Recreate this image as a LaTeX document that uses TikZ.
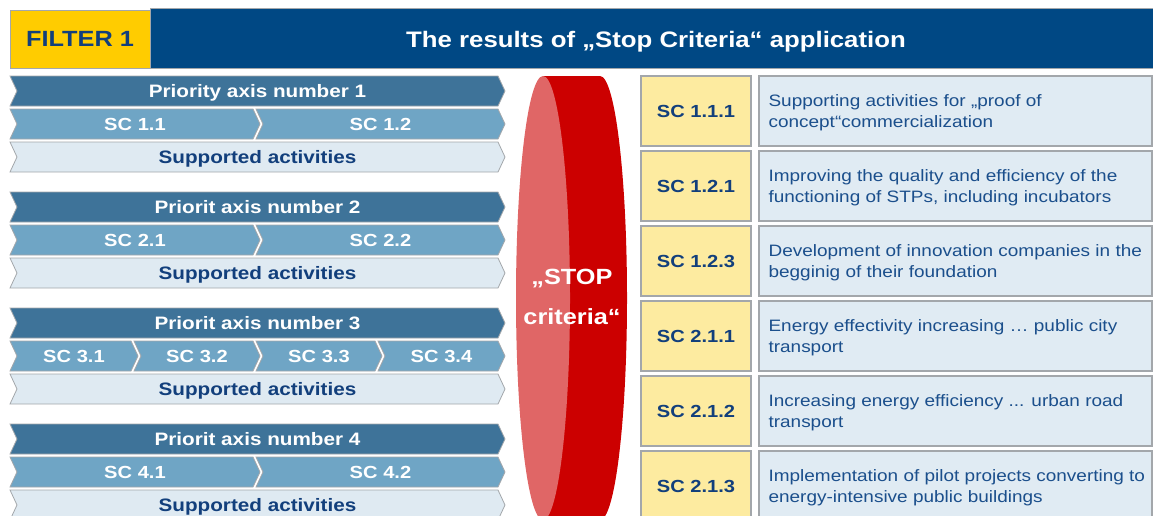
\documentclass[tikz,border=0pt]{standalone}
\usepackage{fontspec}
\setmainfont{Liberation Sans}[FakeStretch=1.15]

\definecolor{hdrblue}{HTML}{004884}
\definecolor{filteryellow}{HTML}{FFCC00}
\definecolor{navytext}{HTML}{123F7C}
\definecolor{bodytext}{HTML}{1B4F8C}
\definecolor{axisfill}{HTML}{3E7399}
\definecolor{scfill}{HTML}{6FA5C5}
\definecolor{supfill}{HTML}{DFEAF2}
\definecolor{edgegrey}{HTML}{A3A7AB}
\definecolor{paleyellow}{HTML}{FDEBA0}
\definecolor{descfill}{HTML}{E0EBF3}
\definecolor{reddark}{HTML}{CC0000}
\definecolor{redlight}{HTML}{E06666}

% a band shaped like a chevron: notch on the left, point on the right
\newcommand\chevband[6]{% name, style, left x, tip x, top y, label
  \path[#2] (#3,#5) -- ({#4-7},#5) -- (#4,{#5+15}) -- ({#4-7},{#5+30})
     -- (#3,{#5+30}) -- ({#3+7},{#5+15}) -- cycle;
  \node[#2 text] (#1) at ({(#3+#4)/2},{#5+15}) {#6};
}

\tikzset{
  axisband/.style={fill=axisfill, draw=edgegrey, line width=0.8pt},
  axisband text/.style={text=white, font=\bfseries\fontsize{18}{20}\selectfont,
    inner sep=0pt, text depth=0pt},
  scband/.style={fill=scfill, draw=edgegrey, line width=0.8pt},
  scband text/.style={text=white, font=\bfseries\fontsize{17.5}{20}\selectfont,
    inner sep=0pt, text depth=0pt},
  supband/.style={fill=supfill, draw=edgegrey, line width=0.8pt},
  supband text/.style={text=navytext, font=\bfseries\fontsize{18}{20}\selectfont,
    inner sep=0pt, text depth=0pt},
  titlebar/.style={fill=hdrblue, draw=edgegrey, line width=0.8pt, minimum width=1004pt,
    minimum height=60pt, inner sep=0pt},
  titletext/.style={text=white, font=\bfseries\fontsize{22.4}{26}\selectfont,
    inner sep=0pt, text depth=0pt},
  filterbox/.style={fill=filteryellow, draw=edgegrey, line width=0.8pt, minimum width=140pt,
    minimum height=58pt, inner sep=0pt, text depth=0pt, text=navytext,
    font=\bfseries\fontsize{22}{26}\selectfont},
  scbox/.style={fill=paleyellow, draw=edgegrey, line width=1.3pt, minimum width=110pt,
    minimum height=70pt, inner sep=0pt, text=navytext, font=\bfseries\fontsize{17.5}{20}\selectfont},
  descbox/.style={fill=descfill, draw=edgegrey, line width=1.3pt, minimum width=393pt,
    minimum height=70pt, inner sep=0pt},
  desctext/.style={anchor=west, align=left, inner sep=0pt, text depth=0pt, text=bodytext,
    font=\fontsize{16.5}{20.5}\selectfont},
  stoptext/.style={text=white, align=center, font=\bfseries\fontsize{22}{40}\selectfont, inner sep=0pt},
}

\begin{document}
\begin{tikzpicture}[x=1pt, y=-1pt]
\useasboundingbox (0,0) rectangle (1153,515);
\clip (0,0) rectangle (1153,515);

% header
\node[titlebar] (title) at (652,38) {};
\node[titletext] (titlelabel) at (656,39) {The results of „Stop Criteria“ application};
\node[filterbox] (filter) at (80,39) {FILTER 1};

% priority axes with their specific objectives
\foreach \g/\ttl in {0/Priority axis number 1, 1/Priorit axis number 2,
                     2/Priorit axis number 3, 3/Priorit axis number 4} {
  \pgfmathsetmacro\ytop{76+116*\g}
  \chevband{pa\g}{axisband}{10}{505}{\ytop}{\ttl}
  \chevband{sa\g}{supband}{10}{505}{\ytop+66}{Supported activities}
}
\chevband{sc11}{scband}{10}{260}{109}{SC 1.1}
\chevband{sc12}{scband}{256}{505}{109}{SC 1.2}
\chevband{sc21}{scband}{10}{260}{225}{SC 2.1}
\chevband{sc22}{scband}{256}{505}{225}{SC 2.2}
\chevband{sc31}{scband}{10}{138}{341}{SC 3.1}
\chevband{sc32}{scband}{134}{260}{341}{SC 3.2}
\chevband{sc33}{scband}{256}{382}{341}{SC 3.3}
\chevband{sc34}{scband}{378}{505}{341}{SC 3.4}
\chevband{sc41}{scband}{10}{260}{457}{SC 4.1}
\chevband{sc42}{scband}{256}{505}{457}{SC 4.2}

% the red "stop" cylinder
\fill[reddark] (600,298) ellipse [x radius=27, y radius=222];
\fill[reddark] (543,76) rectangle (600,530);
\fill[redlight] (543,298) ellipse [x radius=27, y radius=222];
\node[stoptext] (stop) at (572,297) {„STOP\\criteria“};

% specific objectives that pass the criteria
\foreach \k/\code/\txt in {
  0/SC 1.1.1/{Supporting activities for „proof of\\concept“commercialization},
  1/SC 1.2.1/{Improving the quality and efficiency of the\\functioning of STPs, including incubators},
  2/SC 1.2.3/{Development of innovation companies in the\\begginig of their foundation},
  3/SC 2.1.1/{Energy effectivity increasing … public city\\transport},
  4/SC 2.1.2/{Increasing energy efficiency ... urban road\\transport},
  5/SC 2.1.3/{Implementation of pilot projects converting to\\energy-intensive public buildings}} {
  \pgfmathsetmacro\ymid{111+75*\k}
  \node[scbox] (obj\k) at (696,\ymid) {\code};
  \node[descbox] (desc\k) at (955.5,\ymid) {};
  \node[desctext] (desctxt\k) at ([xshift=10pt]desc\k.west) {\txt};
}
\end{tikzpicture}
\end{document}
